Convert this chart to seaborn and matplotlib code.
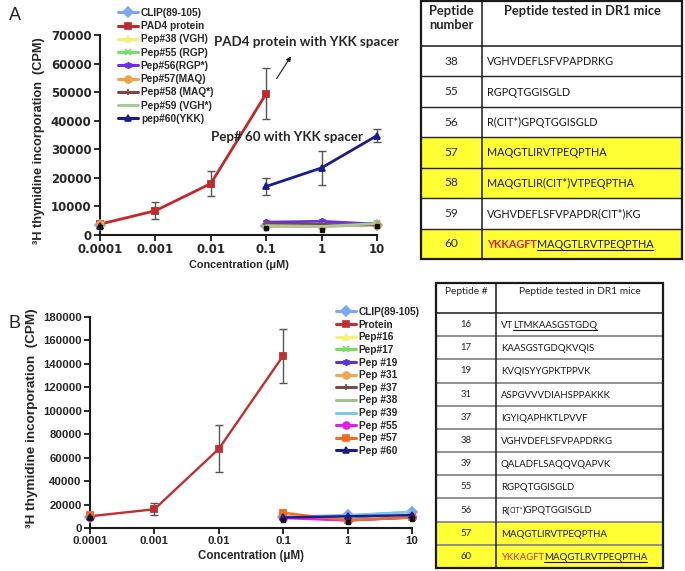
import numpy as np
import pandas as pd
import matplotlib
matplotlib.use("Agg")
import matplotlib.pyplot as plt
from matplotlib.lines import Line2D
import seaborn as sns

sns.set_theme(style="ticks")
plt.rcParams["font.family"] = ["Liberation Sans", "DejaVu Sans"]

nan = np.nan
conc = [0.0001, 0.001, 0.01, 0.1, 1, 10]
conc_labels = ["0.0001", "0.001", "0.01", "0.1", "1", "10"]

# ---------------- Panel A data ----------------
a_names = ["CLIP(89-105)", "PAD4 protein", "Pep#38 (VGH)", "Pep#55 (RGP)", "Pep#56(RGP*)",
           "Pep#57(MAQ)", "Pep#58 (MAQ*)", "Pep#59 (VGH*)", "pep#60(YKK)"]
a_clip = [3500, nan, nan, 3200, 3000, 3600]
a_pad4 = [3800, 8500, 18000, 49500, nan, nan]
a_p38 = [3600, nan, nan, 3400, 3100, 3700]
a_p55 = [3400, nan, nan, 3600, 3300, 4200]
a_p56 = [3700, nan, nan, 4500, 4800, 3800]
a_p57 = [4000, nan, nan, 3000, 3100, 3500]
a_p58 = [3300, nan, nan, 3900, 3700, 3600]
a_p59 = [3500, nan, nan, 3300, 3000, 4000]
a_p60 = [3300, nan, nan, 17000, 23500, 34800]
a_medium = [2800, nan, nan, 2400, 1900, 3200]
a_pad4_err = [0, 2900, 4500, 9000, nan, nan]
a_p60_err = [0, nan, nan, 3000, 6000, 2300]
a_values = [a_clip, a_pad4, a_p38, a_p55, a_p56, a_p57, a_p58, a_p59, a_p60]
a_colors = ["#7fa8ea", "#c1272d", "#f4ee7c", "#74e066", "#6a2ef0", "#f0a444", "#7a4848", "#a9c99a", "#1b1b8e"]
a_markers = ["D", "s", "^", "x", (6, 2, 0), "o", "+", "_", "^"]

# ---------------- Panel B data ----------------
b_names = ["CLIP(89-105)", "Protein", "Pep#16", "Pep#17", "Pep #19", "Pep #31", "Pep #37",
           "Pep #38", "Pep #39", "Pep #55", "Pep #57", "Pep #60"]
b_clip = [9500, nan, nan, 9500, 11000, 13500]
b_prot = [10000, 16000, 67500, 147000, nan, nan]
b_p16 = [9500, nan, nan, 10000, 8000, 11000]
b_p17 = [9800, nan, nan, 9500, 7500, 10500]
b_p19 = [9500, nan, nan, 9000, 7500, 10000]
b_p31 = [10500, nan, nan, 10500, 7000, 9500]
b_p37 = [9500, nan, nan, 9500, 6500, 9000]
b_p38 = [9600, nan, nan, 9000, 7000, 10000]
b_p39 = [9700, nan, nan, 9500, 10500, 14000]
b_p55 = [9300, nan, nan, 8500, 6500, 9000]
b_p57 = [11000, nan, nan, 13000, 6500, 9000]
b_p60 = [9000, nan, nan, 9000, 10000, 11000]
b_medium = [8500, nan, nan, 7000, 5500, 7500]
b_prot_err = [0, 5000, 20000, 23000, nan, nan]
b_values = [b_clip, b_prot, b_p16, b_p17, b_p19, b_p31, b_p37, b_p38, b_p39, b_p55, b_p57, b_p60]
b_colors = ["#7aaaf0", "#c03032", "#f8f070", "#70e060", "#5a30e0", "#f0a850", "#7a4a50",
            "#a0c090", "#78c8f0", "#e020e0", "#f06a20", "#1b1b8e"]
b_markers = ["D", "s", "^", "x", (6, 2, 0), "o", "+", None, None, "o", "s", "^"]

# ---------------- Tables ----------------
ta_nums = ["38", "55", "56", "57", "58", "59", "60"]
ta_seqs = [[("VGHVDEFLSFVPAPDRKG", "k", False)],
           [("RGPQTGGISGLD", "k", False)],
           [("R(CIT*)GPQTGGISGLD", "k", False)],
           [("MAQGTLIRVTPEQPTHA", "k", False)],
           [("MAQGTLIR(CIT*)VTPEQPTHA", "k", False)],
           [("VGHVDEFLSFVPAPDR(CIT*)KG", "k", False)],
           [("YKKAGFT", "#e02020", False, "bold"), ("MAQGTLRVTPEQPTHA", "k", True)]]
ta_yellow = [False, False, False, True, True, False, True]

tb_nums = ["16", "17", "19", "31", "37", "38", "39", "55", "56", "57", "60"]
tb_seqs = [[("VT", "k", False), ("LTMKAASGSTGDQ", "k", True)],
           [("KAASGSTGDQKVQIS", "k", False)],
           [("KVQISYYGPKTPPVK", "k", False)],
           [("ASPGVVVDIAHSPPAKKK", "k", False)],
           [("IGYIQAPHKTLPVVF", "k", False)],
           [("VGHVDEFLSFVPAPDRKG", "k", False)],
           [("QALADFLSAQQVQAPVK", "k", False)],
           [("RGPQTGGISGLD", "k", False)],
           [("R(", "k", False), ("CIT*", "k", False, "normal", 0.72), (")GPQTGGISGLD", "k", False)],
           [("MAQGTLIRVTPEQPTHA", "k", False)],
           [("YKKAGFT", "#e03020", False), ("MAQGTLRVTPEQPTHA", "k", True)]]
tb_yellow = [False] * 9 + [True, True]

YELLOW = "#ffff33"
TFONT = ["Lato", "DejaVu Sans"]

W, H = 685, 571
fig = plt.figure(figsize=(W / 100, H / 100), dpi=100)


def frac(l, t, r, b):
    return [l / W, 1 - b / H, (r - l) / W, (b - t) / H]


def series_frame(values, name):
    df = pd.DataFrame({"conc": conc, "cpm": values})
    df["seg"] = df["cpm"].isna().cumsum()
    df["series"] = name
    return df.dropna()


def draw_panel(ax, names, values, colors, markers, medium, errs, ymax, ystep, lw,
               tick_font, tick_size, xl_size, yl_size):
    ax.set_xscale("log")
    for name, vals, c, m in zip(names, values, colors, markers):
        df = series_frame(vals, name)
        kw = dict(color=c, lw=lw, clip_on=False, zorder=3)
        if m is not None:
            kw.update(marker=m, markersize=5, markeredgecolor=c, markerfacecolor=c,
                      markeredgewidth=1.3)
        sns.lineplot(data=df, x="conc", y="cpm", units="seg", estimator=None,
                     ax=ax, legend=False, **kw)
    dfm = series_frame(medium, "medium")
    ax.plot(dfm["conc"], dfm["cpm"], ls="none", marker="s", ms=3.5, color="#111111",
            clip_on=False, zorder=4)
    for vals, e in errs:
        v = np.array(vals, float)
        ee = np.array(e, float)
        ok = ~np.isnan(v) & ~np.isnan(ee) & (ee > 0)
        ax.errorbar(np.array(conc)[ok], v[ok], yerr=ee[ok], fmt="none", ecolor="#555555",
                    elinewidth=1.0, capsize=3, capthick=1.0, zorder=2, clip_on=False)
    ax.set_xlim(1e-4, 10)
    ax.set_ylim(0, ymax)
    ax.set_yticks(np.arange(0, ymax + 1, ystep))
    ax.set_xticks(conc)
    ax.set_xticklabels(conc_labels)
    ax.minorticks_off()
    for lab in ax.get_xticklabels() + ax.get_yticklabels():
        lab.set_fontweight("bold")
        lab.set_fontsize(tick_size)
        lab.set_family(tick_font)
    ax.tick_params(axis="both", direction="out", length=4, width=1.3, color="k", pad=2)
    for s in ["top", "right"]:
        ax.spines[s].set_visible(False)
    for s in ["left", "bottom"]:
        ax.spines[s].set_linewidth(1.5)
        ax.spines[s].set_color("k")
    ax.set_xlabel("Concentration (\u03bcM)", fontsize=xl_size, fontweight="bold", labelpad=3)
    ax.set_ylabel("\u00b3H thymidine incorporation  (CPM)", fontsize=yl_size,
                  fontweight="bold", labelpad=4)
    ax.set_facecolor("none")


def make_legend(ax, names, colors, markers, anchor, spacing):
    handles = []
    for c, m in zip(colors, markers):
        handles.append(Line2D([], [], color=c, lw=2.2, marker=m if m is not None else None,
                              ms=5, mec=c, mfc=c, mew=1.2))
    leg = ax.legend(handles, names, loc="upper left", bbox_to_anchor=anchor,
                    bbox_transform=fig.transFigure, frameon=False, borderpad=0,
                    borderaxespad=0, handlelength=2.0, handletextpad=0.25,
                    labelspacing=spacing, prop=dict(size=7.3, weight="bold"))
    return leg


# Panel A
axA = fig.add_axes(frac(100, 35, 377, 235))
draw_panel(axA, a_names, a_values, a_colors, a_markers, a_medium,
           [(a_pad4, a_pad4_err), (a_p60, a_p60_err)], 70000, 10000, 2.0,
           ["DejaVu Sans"], 8.5, 7.8, 9.2)
make_legend(axA, a_names, a_colors, a_markers, (118 / W, 1 - 8 / H), 0.32)
axA.yaxis.set_label_coords(-0.2, 0.47)
axA.text(0.747, 0.963, "PAD4 protein with YKK spacer", transform=axA.transAxes,
         fontsize=9.6, fontweight="bold", family=TFONT, ha="center", va="center")
axA.text(0.675, 0.49, "Pep# 60 with YKK spacer", transform=axA.transAxes,
         fontsize=9.6, fontweight="bold", family=TFONT, ha="center", va="center")
axA.annotate("", xy=(0.695, 0.905), xytext=(0.632, 0.77), xycoords="axes fraction",
             arrowprops=dict(arrowstyle="-|>", color="k", lw=0.8, mutation_scale=7))

# Panel B
axB = fig.add_axes(frac(90, 317, 412, 528))
draw_panel(axB, b_names, b_values, b_colors, b_markers, b_medium,
           [(b_prot, b_prot_err)], 180000, 20000, 1.7,
           ["Liberation Sans"], 8.2, 8.3, 9.7)
make_legend(axB, b_names, b_colors, b_markers, (336 / W, 1 - 307 / H), 0.26)
axB.yaxis.set_label_coords(-0.16, 0.52)

# Overlay for tables and panel letters (pixel coordinates)
ov = fig.add_axes([0, 0, 1, 1])
ov.set_xlim(0, W)
ov.set_ylim(H, 0)
ov.axis("off")
ov.patch.set_alpha(0)
ov.text(9, 15, "A", fontsize=13, va="center", ha="left", family=["Liberation Sans"])
ov.text(9, 323, "B", fontsize=13, va="center", ha="left", family=["Liberation Sans"])

renderer = fig.canvas.get_renderer()


def rich(x, y, segs, size):
    for seg in segs:
        txt, col, und = seg[0], seg[1], seg[2]
        wt = seg[3] if len(seg) > 3 else "normal"
        sc = seg[4] if len(seg) > 4 else 1.0
        t = ov.text(x, y, txt, fontsize=size * sc, color=col, fontweight=wt,
                    ha="left", va="baseline", family=TFONT)
        bb = t.get_window_extent(renderer=renderer)
        inv = ov.transData.inverted()
        (x0, _), (x1, _) = inv.transform([[bb.x0, bb.y0], [bb.x1, bb.y1]])
        if und:
            ov.plot([x0, x1], [y + 2, y + 2], color=col, lw=0.8)
        x = x1


def table(x0, x1, xdiv, ytop, yhead, ybot, nums, seqs, yellow, size, nsize, hsize,
          line_col, inner_lw, header, header_bold):
    n = len(nums)
    rh = (ybot - yhead) / n
    for i in range(n):
        if yellow[i]:
            ov.add_patch(plt.Rectangle((x0, yhead + i * rh), x1 - x0, rh, color=YELLOW, lw=0,
                                       zorder=0))
    for i in range(1, n):
        ov.plot([x0, x1], [yhead + i * rh] * 2, color=line_col, lw=inner_lw, zorder=1)
    ov.plot([x0, x1], [yhead, yhead], color="k", lw=1.1, zorder=1)
    ov.plot([xdiv, xdiv], [ytop, ybot], color="k", lw=1.1, zorder=1)
    ov.add_patch(plt.Rectangle((x0, ytop), x1 - x0, ybot - ytop, fill=False, ec="k",
                               lw=1.6, zorder=2))
    for i in range(n):
        yc = yhead + (i + 0.5) * rh
        ov.text((x0 + xdiv) / 2, yc, nums[i], fontsize=nsize, ha="center", va="center",
                family=TFONT)
        rich(xdiv + 5, yc + size * 0.5, seqs[i], size)
    wt = "bold" if header_bold else "normal"
    ov.text((x0 + xdiv) / 2, ytop + 4, header[0], fontsize=hsize, fontweight=wt,
            ha="center", va="top", family=TFONT, linespacing=1.2)
    ov.text((xdiv + x1) / 2, ytop + 4, header[1], fontsize=hsize, fontweight=wt,
            ha="center", va="top", family=TFONT)


table(421, 682, 482, 1, 46, 259, ta_nums, ta_seqs, ta_yellow, 7.8, 8.6, 9.3, "#222222", 1.0,
      ("Peptide\nnumber", "Peptide tested in DR1 mice"), True)
table(436, 663, 496, 283, 313, 568, tb_nums, tb_seqs, tb_yellow, 6.9, 6.9, 7.3, "#888888", 1.3,
      ("Peptide #", "Peptide tested in DR1 mice"), False)

fig.savefig("out.png", dpi=100)
